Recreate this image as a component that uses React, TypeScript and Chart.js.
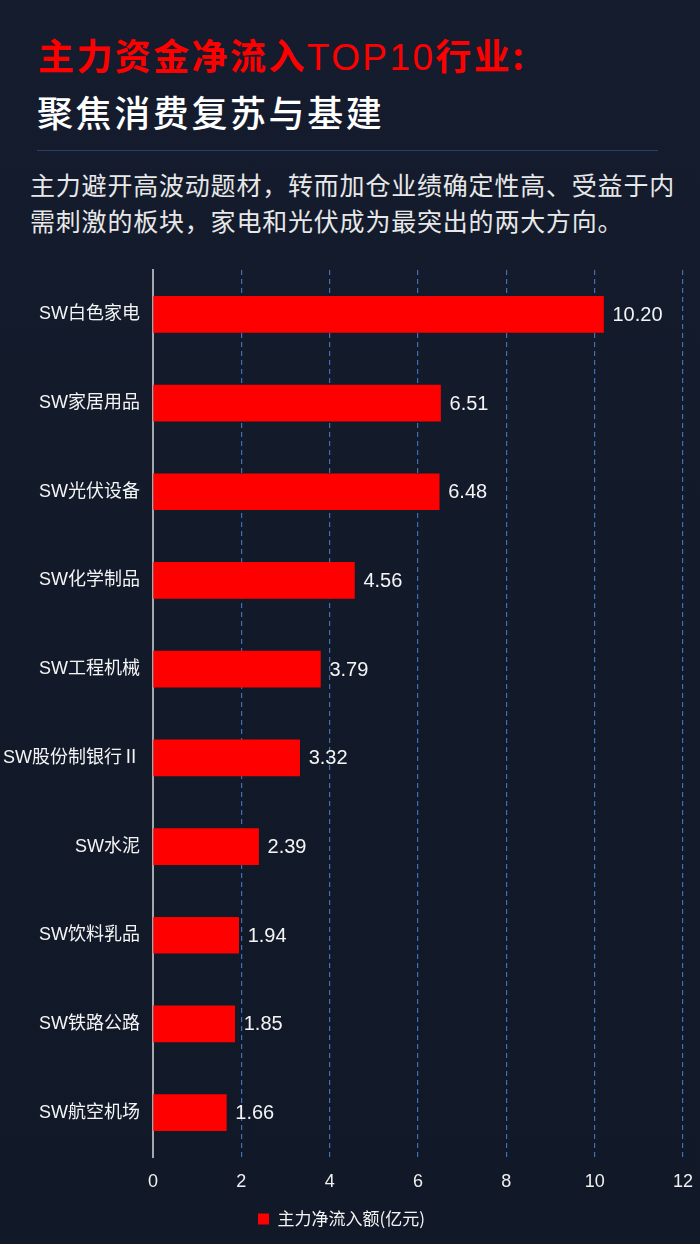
import React, { useEffect, useRef } from "react";
import { Chart, registerables } from "chart.js";

Chart.register(...registerables);

const categories = [
  "SW白色家电",
  "SW家居用品",
  "SW光伏设备",
  "SW化学制品",
  "SW工程机械",
  "SW股份制银行Ⅱ",
  "SW水泥",
  "SW饮料乳品",
  "SW铁路公路",
  "SW航空机场",
];
const inflowValues = [10.2, 6.51, 6.48, 4.56, 3.79, 3.32, 2.39, 1.94, 1.85, 1.66];
const seriesName = "主力净流入额(亿元)";
const xMin = 0;
const xMax = 12;
const xStep = 2;

const FONT = '"Noto Sans CJK SC", "Noto Sans", sans-serif';
const MIXED = '"Liberation Sans", "Noto Sans CJK SC", sans-serif';

const valueLabelPlugin = {
  id: "valueLabels",
  afterDatasetsDraw(chart: any) {
    const { ctx } = chart;
    const meta = chart.getDatasetMeta(0);
    ctx.save();
    ctx.fillStyle = "#f4f4f4";
    ctx.font = `20px ${MIXED}`;
    ctx.textAlign = "left";
    ctx.textBaseline = "middle";
    meta.data.forEach((bar: any, i: number) => {
      const v = chart.data.datasets[0].data[i] as number;
      ctx.fillText(v.toFixed(2), bar.x + 9, bar.y + 1);
    });
    ctx.restore();
  },
};

function BarChart() {
  const ref = useRef<HTMLCanvasElement | null>(null);
  useEffect(() => {
    if (!ref.current) return;
    const chart = new Chart(ref.current, {
      type: "bar",
      data: {
        labels: categories,
        datasets: [
          {
            label: seriesName,
            data: inflowValues,
            backgroundColor: "#ff0000",
            borderWidth: 0,
            barThickness: 36,
          },
        ],
      },
      options: {
        indexAxis: "y",
        animation: false,
        responsive: false,
        maintainAspectRatio: false,
        layout: { padding: { top: 20, right: 17, bottom: 6.5, left: 0 } },
        plugins: {
          legend: {
            display: true,
            position: "bottom",
            labels: {
              color: "#f4f4f4",
              font: { family: FONT, size: 17 },
              boxWidth: 11,
              boxHeight: 11,
              padding: 10,
            },
          },
          tooltip: { enabled: false },
        },
        scales: {
          x: {
            min: xMin,
            max: xMax,
            afterFit(scale: any) {
              scale.height = 43.5;
              scale.paddingLeft = 0;
              scale.paddingRight = 0;
            },
            ticks: {
              stepSize: xStep,
              color: "#f0f0f0",
              font: { family: MIXED, size: 18 },
              padding: 14,
            },
            grid: {
              drawTicks: false,
              color: (c: any) => (c.tick && c.tick.value === 0 ? "rgba(0,0,0,0)" : "#3f6fb8"),
              lineWidth: 1.2,
            },
            border: { display: false, dash: [5, 4] },
          },
          y: {
            afterFit(scale: any) {
              scale.width = 153;
              scale.paddingTop = 0;
              scale.paddingBottom = 0;
            },
            ticks: {
              color: "#f4f4f4",
              font: { family: MIXED, size: 18 },
              padding: 13,
            },
            grid: { display: false, drawTicks: false },
            border: { display: true, color: "#a3a7ae", width: 2 },
          },
        },
      },
      plugins: [valueLabelPlugin],
    });
    return () => chart.destroy();
  }, []);
  return <canvas ref={ref} width={700} height={994} style={{ display: "block" }} />;
}

export default function App() {
  return (
    <div
      style={{
        position: "absolute",
        left: 0,
        top: 0,
        width: 700,
        height: 1244,
        overflow: "hidden",
        background: "linear-gradient(180deg, #141c2d 0%, #121a2a 50%, #111827 100%)",
        fontFamily: FONT,
      }}
    >
      <div
        style={{
          position: "absolute",
          left: 38,
          top: 36,
          fontSize: 36,
          lineHeight: "36px",
          letterSpacing: "2.4px",
          color: "#ff0000",
          fontWeight: 700,
          whiteSpace: "nowrap",
        }}
      >
        主力资金净流入
        <span style={{ fontWeight: 400, fontFamily: MIXED, fontSize: 37 }}>TOP10</span>
        行业:
      </div>
      <div
        style={{
          position: "absolute",
          left: 37,
          top: 93,
          fontSize: 36,
          lineHeight: "36px",
          letterSpacing: "2.6px",
          color: "#ffffff",
          fontWeight: 500,
          whiteSpace: "nowrap",
        }}
      >
        聚焦消费复苏与基建
      </div>
      <div
        style={{
          position: "absolute",
          left: 37,
          top: 150,
          width: 621,
          height: 1,
          background: "#2b3d68",
        }}
      />
      <div
        style={{
          position: "absolute",
          left: 30,
          top: 166,
          fontSize: 25,
          lineHeight: "36px",
          letterSpacing: "0.8px",
          color: "#e8e8e8",
          whiteSpace: "nowrap",
        }}
      >
        主力避开高波动题材，转而加仓业绩确定性高、受益于内
        <br />
        需刺激的板块，家电和光伏成为最突出的两大方向。
      </div>
      <div style={{ position: "absolute", left: 0, top: 250, width: 700, height: 994 }}>
        <BarChart />
      </div>
    </div>
  );
}
